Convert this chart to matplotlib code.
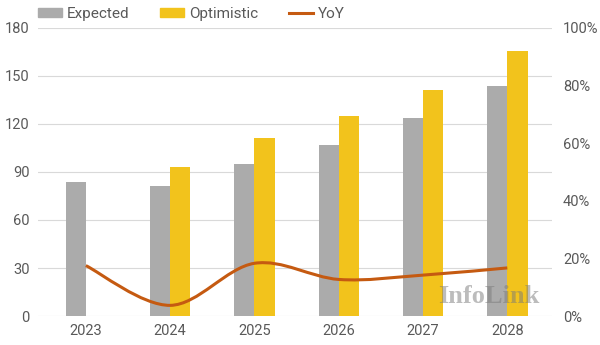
import matplotlib
matplotlib.use("Agg")
import matplotlib.pyplot as plt
from matplotlib.path import Path
from matplotlib.patches import PathPatch
from matplotlib.lines import Line2D
from matplotlib.patches import Patch
import numpy as np

# Data
years = ["2023", "2024", "2025", "2026", "2027", "2028"]
expected = [84, 81.5, 95, 107, 123.5, 144]
optimistic = [None, 93, 111, 125, 141.5, 165.5]
yoy = [17.5, 3.7, 18.3, 12.7, 14.2, 16.7]  # percent

gray = "#ABABAB"
yellow = "#F2C31C"
orange = "#C55A11"
text_col = "#595959"

plt.rcParams["font.family"] = ["Roboto", "DejaVu Sans"]

fig = plt.figure(figsize=(6, 3.45), dpi=100)
ax = fig.add_axes([0.063, 0.084, 0.857, 0.835])
ax2 = ax.twinx()

x = np.arange(len(years))
w = 0.24
ax.bar(x - w / 2, expected, w, color=gray, zorder=2)
opt_x = [xi + w / 2 for xi, v in zip(x, optimistic) if v is not None]
opt_v = [v for v in optimistic if v is not None]
ax.bar(opt_x, opt_v, w, color=yellow, zorder=2)

ax.set_xlim(-0.57, 5.53)
ax.set_ylim(0, 180)
ax.set_yticks(range(0, 181, 30))
ax.set_xticks(x)
ax.set_xticklabels(years)
ax.yaxis.grid(True, color="#D9D9D9", linewidth=0.8, zorder=0)
ax.set_axisbelow(True)
for s in ax.spines.values():
    s.set_visible(False)
for s in ax2.spines.values():
    s.set_visible(False)
ax.tick_params(axis="both", length=0, labelsize=10.5, colors=text_col, pad=6)
ax2.tick_params(axis="both", length=0, labelsize=10.5, colors=text_col, pad=8)

# smoothed YoY line (cubic Bezier through the data points)
ax2.set_ylim(0, 100)
ax2.set_yticks(range(0, 101, 20))
ax2.set_yticklabels([f"{v}%" for v in range(0, 101, 20)])
pts = np.column_stack([x, yoy]).astype(float)
verts = [tuple(pts[0])]
codes = [Path.MOVETO]
n = len(pts)
t = 1 / 6
for i in range(n - 1):
    p0 = pts[i - 1] if i > 0 else pts[i]
    p1 = pts[i]
    p2 = pts[i + 1]
    p3 = pts[i + 2] if i + 2 < n else pts[i + 1]
    c1 = p1 + (p2 - p0) * t
    c2 = p2 - (p3 - p1) * t
    verts += [tuple(c1), tuple(c2), tuple(p2)]
    codes += [Path.CURVE4] * 3
ax2.add_patch(PathPatch(Path(verts, codes), facecolor="none", edgecolor=orange,
                        linewidth=2.2, zorder=3, capstyle="butt"))

# watermark
ax2.text(4.78, 6.8, "InfoLink", fontsize=19, fontweight="bold", color="#7A7A7A",
         alpha=0.5, family=["Liberation Serif", "DejaVu Serif"], ha="center", va="center")

handles = [Patch(color=gray), Patch(color=yellow), Line2D([], [], color=orange, linewidth=2.2)]
fig.legend(handles, ["Expected", "Optimistic", "YoY"], loc="upper left",
           bbox_to_anchor=(0.04, 1.02), ncol=3, frameon=False, fontsize=11,
           labelcolor=text_col, handlelength=1.6, handleheight=0.6,
           handletextpad=0.3, columnspacing=2.0)

fig.savefig("out.png", dpi=100)
